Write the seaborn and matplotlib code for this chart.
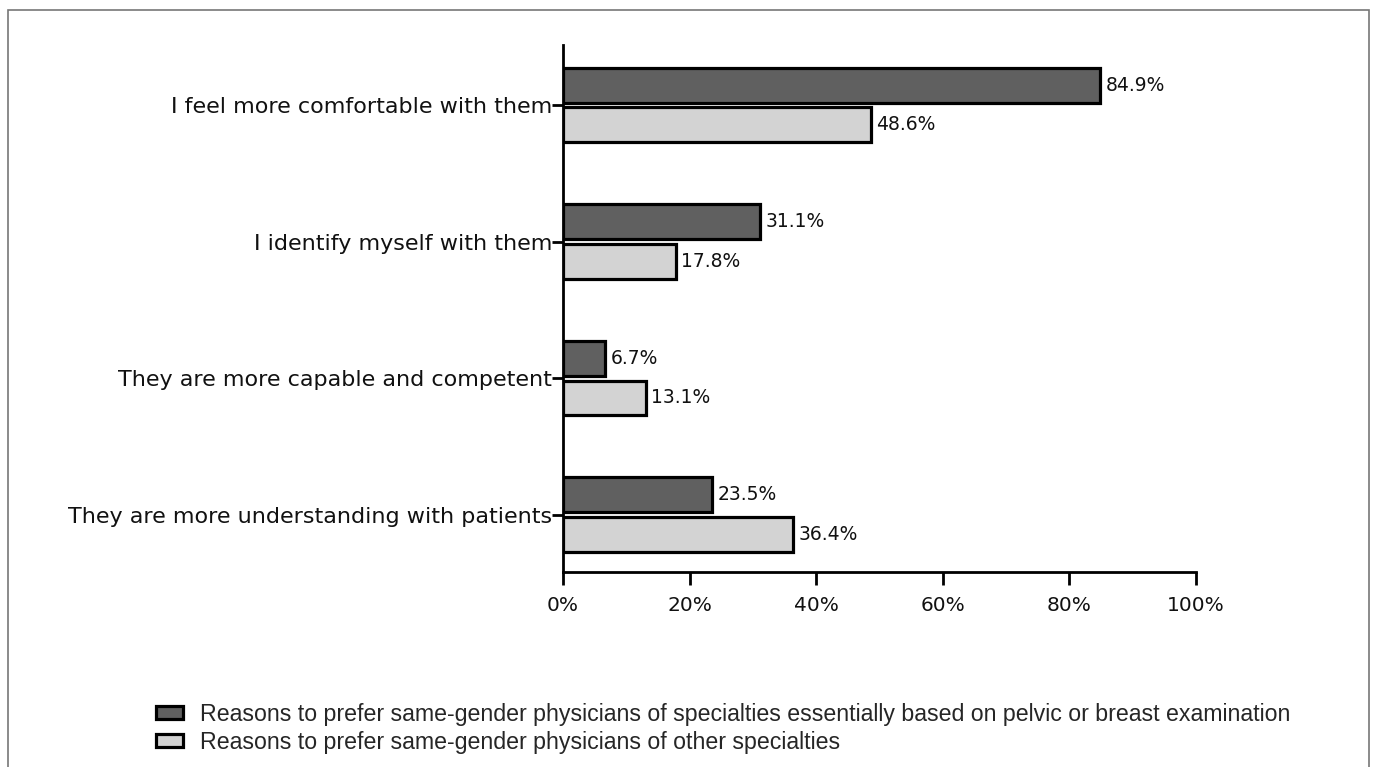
import pandas as pd
import matplotlib.pyplot as plt
import matplotlib.patches as mpatches
import seaborn as sns

sns.set_theme(style='ticks')
plt.rcParams['font.family'] = ['DejaVu Sans']

# 数据
reasons = ['I feel more comfortable with them',
           'I identify myself with them',
           'They are more capable and competent',
           'They are more understanding with patients']
groups = ['Reasons to prefer same-gender physicians of specialties essentially based on pelvic or breast examination',
          'Reasons to prefer same-gender physicians of other specialties']
pelvic_breast = [84.9, 31.1, 6.7, 23.5]
other_spec = [48.6, 17.8, 13.1, 36.4]
xticks = [0, 20, 40, 60, 80, 100]
colors = ['#606060', '#d3d3d3']

df = pd.DataFrame({
    'Reason': reasons * 2,
    'Group': [groups[0]] * 4 + [groups[1]] * 4,
    'Value': pelvic_breast + other_spec,
})

fig = plt.figure(figsize=(13.75, 7.67), dpi=100)
ax = fig.add_axes([563 / 1375, 1 - 572 / 767, 633 / 1375, 527 / 767])

sns.barplot(data=df, y='Reason', x='Value', hue='Group', palette=colors,
            order=reasons, hue_order=groups, width=0.58, gap=0.12,
            edgecolor='black', linewidth=2.3, orient='h', ax=ax, legend=False)

# 数值标签
for cont in ax.containers:
    ax.bar_label(cont, labels=[f'{v:.1f}%' for v in cont.datavalues],
                 padding=4, fontsize=13.5, color='#111111')

ax.set_xlim(0, 100)
ax.set_ylim(3.42, -0.44)
ax.set_xticks(xticks)
ax.set_xticklabels([f'{t}%' for t in xticks], fontsize=14.5)
ax.tick_params(axis='y', labelsize=16, length=8, width=2, pad=0, colors='black')
ax.tick_params(axis='x', length=9, width=2, pad=8, colors='black')
for lbl in ax.get_yticklabels() + ax.get_xticklabels():
    lbl.set_color('#111111')
ax.set_xlabel('')
ax.set_ylabel('')
for s in ['top', 'right']:
    ax.spines[s].set_visible(False)
for s in ['left', 'bottom']:
    ax.spines[s].set_linewidth(2)
    ax.spines[s].set_color('black')

# 图例
handles = [mpatches.Patch(facecolor=c, edgecolor='black', linewidth=2.3) for c in colors]
fig.legend(handles, groups, loc='upper left', bbox_to_anchor=(135 / 1375, 1 - 682 / 767),
           frameon=False, prop={'family': 'Liberation Sans', 'size': 16.7},
           handlelength=1.15, handleheight=0.5, handletextpad=0.75, labelspacing=0.22)

# 外框
fig.patches.append(mpatches.Rectangle((8 / 1375, -0.01), 1361 / 1375, 1 - 10 / 767 + 0.01,
                                      transform=fig.transFigure, fill=False,
                                      edgecolor='#777777', linewidth=1.2))

fig.savefig('out.png', dpi=100)
